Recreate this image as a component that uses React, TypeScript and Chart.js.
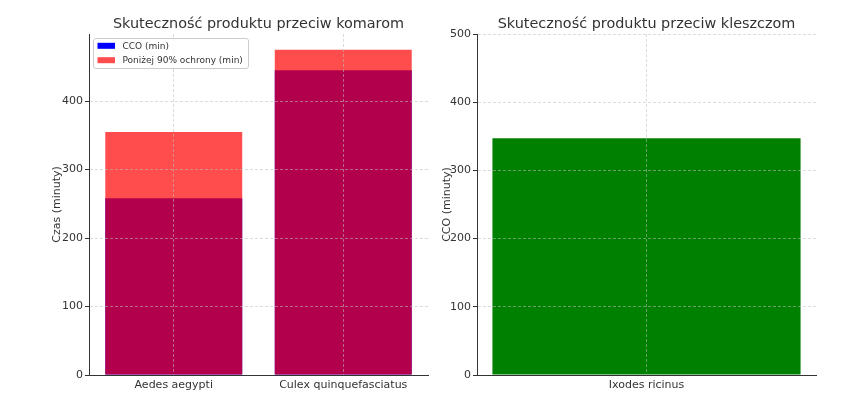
import React, { useEffect, useRef } from "react";
import { Chart, registerables } from "chart.js";

Chart.register(...registerables);

// ---- data ----
const mosquitoSpecies = ["Aedes aegypti", "Culex quinquefasciatus"];
const ccoMinutes = [258, 445];
const below90Minutes = [355, 475];
const tickSpecies = ["Ixodes ricinus"];
const tickCcoMinutes = [347];
const mosquitoYTicks = [0, 100, 200, 300, 400];
const tickYTicks = [0, 100, 200, 300, 400, 500];
const mosquitoTitle = "Skuteczność produktu przeciw komarom";
const tickTitle = "Skuteczność produktu przeciw kleszczom";
const mosquitoYLabel = "Czas (minuty)";
const tickYLabel = "CCO (minuty)";
const legendLabels = ["CCO (min)", "Poniżej 90% ochrony (min)"];

const FONT = '"DejaVu Sans", Verdana, sans-serif';
const TEXT = "#333333";
const AXIS = "#333333";
const GRID = "rgba(190,190,190,0.55)";

function makeScales(yMax: number, yTicks: number[], yWidth: number) {
  return {
    x: {
      type: "category" as const,
      offset: true,
      grid: {
        display: true,
        offset: false,
        color: GRID,
        lineWidth: 1,
        drawTicks: false,
        z: 1,
      },
      border: { display: true, color: AXIS, width: 1, dash: [3, 2], z: 1 },
      ticks: {
        color: TEXT,
        font: { family: FONT, size: 11 },
        padding: 4,
        maxRotation: 0,
      },
      afterFit: (s: any) => {
        s.height = 23;
      },
    },
    y: {
      type: "linear" as const,
      min: 0,
      max: yMax,
      grid: {
        color: (c: any) =>
          c.tick && c.tick.value === 0 ? "rgba(0,0,0,0)" : GRID,
        lineWidth: 1,
        drawTicks: true,
        tickLength: 4,
        tickColor: AXIS,
        tickWidth: 1,
        z: 1,
      },
      border: { display: true, color: AXIS, width: 1, dash: [3, 2], z: 1 },
      afterBuildTicks: (s: any) => {
        s.ticks = yTicks.map((v) => ({ value: v }));
      },
      ticks: {
        color: TEXT,
        font: { family: FONT, size: 11 },
        padding: 2,
        includeBounds: false,
      },
      afterFit: (s: any) => {
        s.width = yWidth;
      },
    },
  };
}

function annotPlugin(title: string, yLabel: string, yLabelX: number, withLegend: boolean) {
  return {
    id: "annot",
    afterDraw(chart: any) {
      const { ctx, chartArea } = chart;
      ctx.save();
      ctx.fillStyle = TEXT;
      ctx.font = `14.4px ${FONT}`;
      ctx.textAlign = "center";
      ctx.textBaseline = "alphabetic";
      ctx.fillText(title, (chartArea.left + chartArea.right) / 2, 28);
      ctx.font = `11px ${FONT}`;
      ctx.translate(yLabelX, (chartArea.top + chartArea.bottom) / 2);
      ctx.rotate(-Math.PI / 2);
      ctx.fillText(yLabel, 0, 0);
      ctx.restore();

      if (withLegend) {
        const x0 = chartArea.left + 4.5;
        const y0 = chartArea.top + 4.5;
        const w = 155;
        const h = 30;
        ctx.save();
        ctx.beginPath();
        const r = 2.5;
        ctx.moveTo(x0 + r, y0);
        ctx.lineTo(x0 + w - r, y0);
        ctx.quadraticCurveTo(x0 + w, y0, x0 + w, y0 + r);
        ctx.lineTo(x0 + w, y0 + h - r);
        ctx.quadraticCurveTo(x0 + w, y0 + h, x0 + w - r, y0 + h);
        ctx.lineTo(x0 + r, y0 + h);
        ctx.quadraticCurveTo(x0, y0 + h, x0, y0 + h - r);
        ctx.lineTo(x0, y0 + r);
        ctx.quadraticCurveTo(x0, y0, x0 + r, y0);
        ctx.closePath();
        ctx.fillStyle = "rgba(255,255,255,0.8)";
        ctx.fill();
        ctx.strokeStyle = "#cccccc";
        ctx.lineWidth = 1;
        ctx.stroke();
        const ds = chart.data.datasets;
        const rows = [ds[0], ds[1]];
        rows.forEach((d: any, i: number) => {
          const cy = y0 + 7.3 + i * 14.4;
          ctx.fillStyle = d.backgroundColor;
          ctx.fillRect(x0 + 4, cy - 3, 17.5, 6);
          ctx.fillStyle = TEXT;
          ctx.font = `9px ${FONT}`;
          ctx.textAlign = "left";
          ctx.textBaseline = "middle";
          ctx.fillText(legendLabels[i], x0 + 29, cy + 0.5);
        });
        ctx.restore();
      }
    },
  };
}

export default function App() {
  const leftRef = useRef<HTMLCanvasElement | null>(null);
  const rightRef = useRef<HTMLCanvasElement | null>(null);

  useEffect(() => {
    const left = new Chart(leftRef.current as HTMLCanvasElement, {
      type: "bar",
      data: {
        labels: mosquitoSpecies,
        datasets: [
          {
            label: legendLabels[0],
            data: ccoMinutes,
            backgroundColor: "rgb(0,0,255)",
            grouped: false,
            order: 2,
            barPercentage: 0.808,
            categoryPercentage: 1,
          },
          {
            label: legendLabels[1],
            data: below90Minutes,
            backgroundColor: "rgba(255,0,0,0.7)",
            grouped: false,
            order: 1,
            barPercentage: 0.808,
            categoryPercentage: 1,
          },
        ],
      },
      options: {
        responsive: false,
        animation: false,
        layout: { padding: { top: 34, left: 0, right: 12, bottom: 0 } },
        plugins: { legend: { display: false }, tooltip: { enabled: false }, title: { display: false } },
        scales: makeScales(498, mosquitoYTicks, 89) as any,
      },
      plugins: [annotPlugin(mosquitoTitle, mosquitoYLabel, 60, true)],
    });

    const right = new Chart(rightRef.current as HTMLCanvasElement, {
      type: "bar",
      data: {
        labels: tickSpecies,
        datasets: [
          {
            label: "CCO (min)",
            data: tickCcoMinutes,
            backgroundColor: "green",
            barPercentage: 0.909,
            categoryPercentage: 1,
          },
        ],
      },
      options: {
        responsive: false,
        animation: false,
        layout: { padding: { top: 34, left: 0, right: 46, bottom: 0 } },
        plugins: { legend: { display: false }, tooltip: { enabled: false }, title: { display: false } },
        scales: makeScales(500, tickYTicks, 37) as any,
      },
      plugins: [annotPlugin(tickTitle, tickYLabel, 10, false)],
    });

    return () => {
      left.destroy();
      right.destroy();
    };
  }, []);

  return (
    <div style={{ position: "absolute", left: 0, top: 0, width: 862, height: 398, background: "#fff" }}>
      <canvas
        ref={leftRef}
        width={440}
        height={398}
        style={{ position: "absolute", left: 0, top: 0, width: 440, height: 398 }}
      />
      <canvas
        ref={rightRef}
        width={422}
        height={398}
        style={{ position: "absolute", left: 440, top: 0, width: 422, height: 398 }}
      />
    </div>
  );
}
